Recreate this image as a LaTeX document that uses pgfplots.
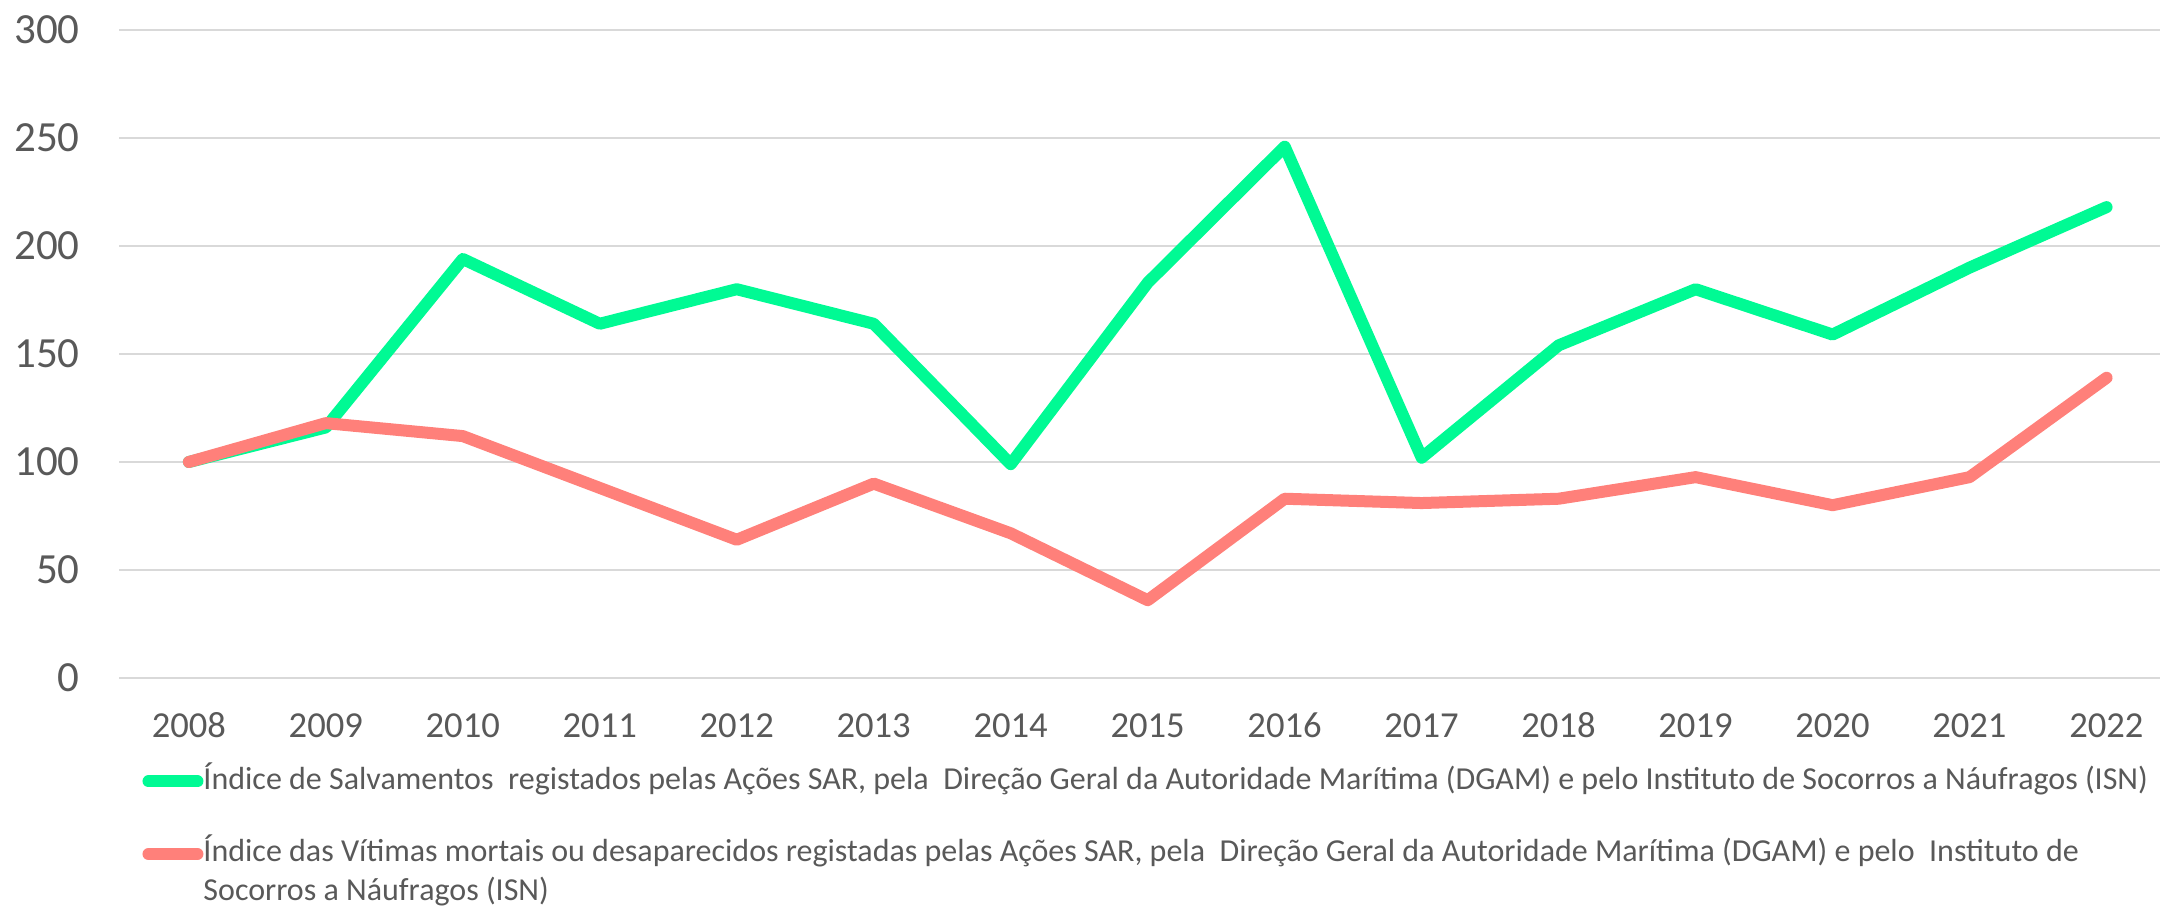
\documentclass[border=0pt]{standalone}
\usepackage{fontspec}
\setmainfont{Carlito}
\usepackage{pgfplots}
\pgfplotsset{compat=1.18}

\definecolor{salv}{RGB}{0,250,148}
\definecolor{vitim}{RGB}{255,128,122}
\definecolor{txtgray}{RGB}{89,89,89}
\definecolor{gridgray}{RGB}{217,217,217}

\begin{document}
\begin{tikzpicture}
\useasboundingbox (0,0) rectangle (1080.5pt,453.5pt);
\begin{axis}[
  at={(59.5pt,114.5pt)}, anchor=south west,
  scale only axis,
  width=1020.5pt, height=324pt,
  xmin=2007.49, xmax=2022.39,
  ymin=0, ymax=300,
  xtick={2008,...,2022},
  ytick={0,50,...,300},
  /pgf/number format/.cd, set thousands separator={}, assume math mode=true,
  /pgfplots/.cd,
  major tick length=0pt,
  axis line style={draw=none},
  ymajorgrids,
  grid style={gridgray, line width=0.75pt},
  yticklabel style={font=\fontsize{21.5}{24}\selectfont, text=txtgray, anchor=east, inner sep=0pt, xshift=-19.5pt},
  xticklabel style={font=\fontsize{18.3}{21}\selectfont, text=txtgray, anchor=base, inner sep=0pt, yshift=-29.5pt},
  legend cell align=left,
  legend style={
    at={(0.0113,-0.1305)}, anchor=north west,
    draw=none, fill=none, inner sep=0pt, row sep=21pt,
    font=\fontsize{16}{19.5}\selectfont, text=txtgray,
    nodes={inner sep=0pt, align=left},
    /tikz/every even column/.style={column sep=1pt},
  },
]
\addplot[salv, line width=6pt, line cap=round, line join=round,
  legend image code/.code={\draw[line width=6pt, line cap=round] (3pt,-1.8pt) -- (27.5pt,-1.8pt);}] coordinates {
  (2008,100) (2009,116) (2010,194) (2011,164) (2012,180) (2013,164) (2014,99)
  (2015,183) (2016,246) (2017,102) (2018,154) (2019,180) (2020,159) (2021,190) (2022,218)
};
\addlegendentry{Índice de Salvamentos\ \ registados pelas Ações SAR, pela\ \ Direção Geral da Autoridade Marítima (DGAM) e pelo Instituto de Socorros a Náufragos (ISN)}
\addplot[vitim, line width=6pt, line cap=round, line join=round,
  legend image code/.code={\draw[line width=6pt, line cap=round] (3pt,7.5pt) -- (27.5pt,7.5pt);}] coordinates {
  (2008,100) (2009,118) (2010,112) (2011,88) (2012,64) (2013,90) (2014,67)
  (2015,36) (2016,83) (2017,81) (2018,83) (2019,93) (2020,80) (2021,93) (2022,139)
};
\addlegendentry{Índice das Vítimas mortais ou desaparecidos registadas pelas Ações SAR, pela\ \ Direção Geral da Autoridade Marítima (DGAM) e pelo\ \ Instituto de\\Socorros a Náufragos (ISN)}
\end{axis}
\end{tikzpicture}
\end{document}
